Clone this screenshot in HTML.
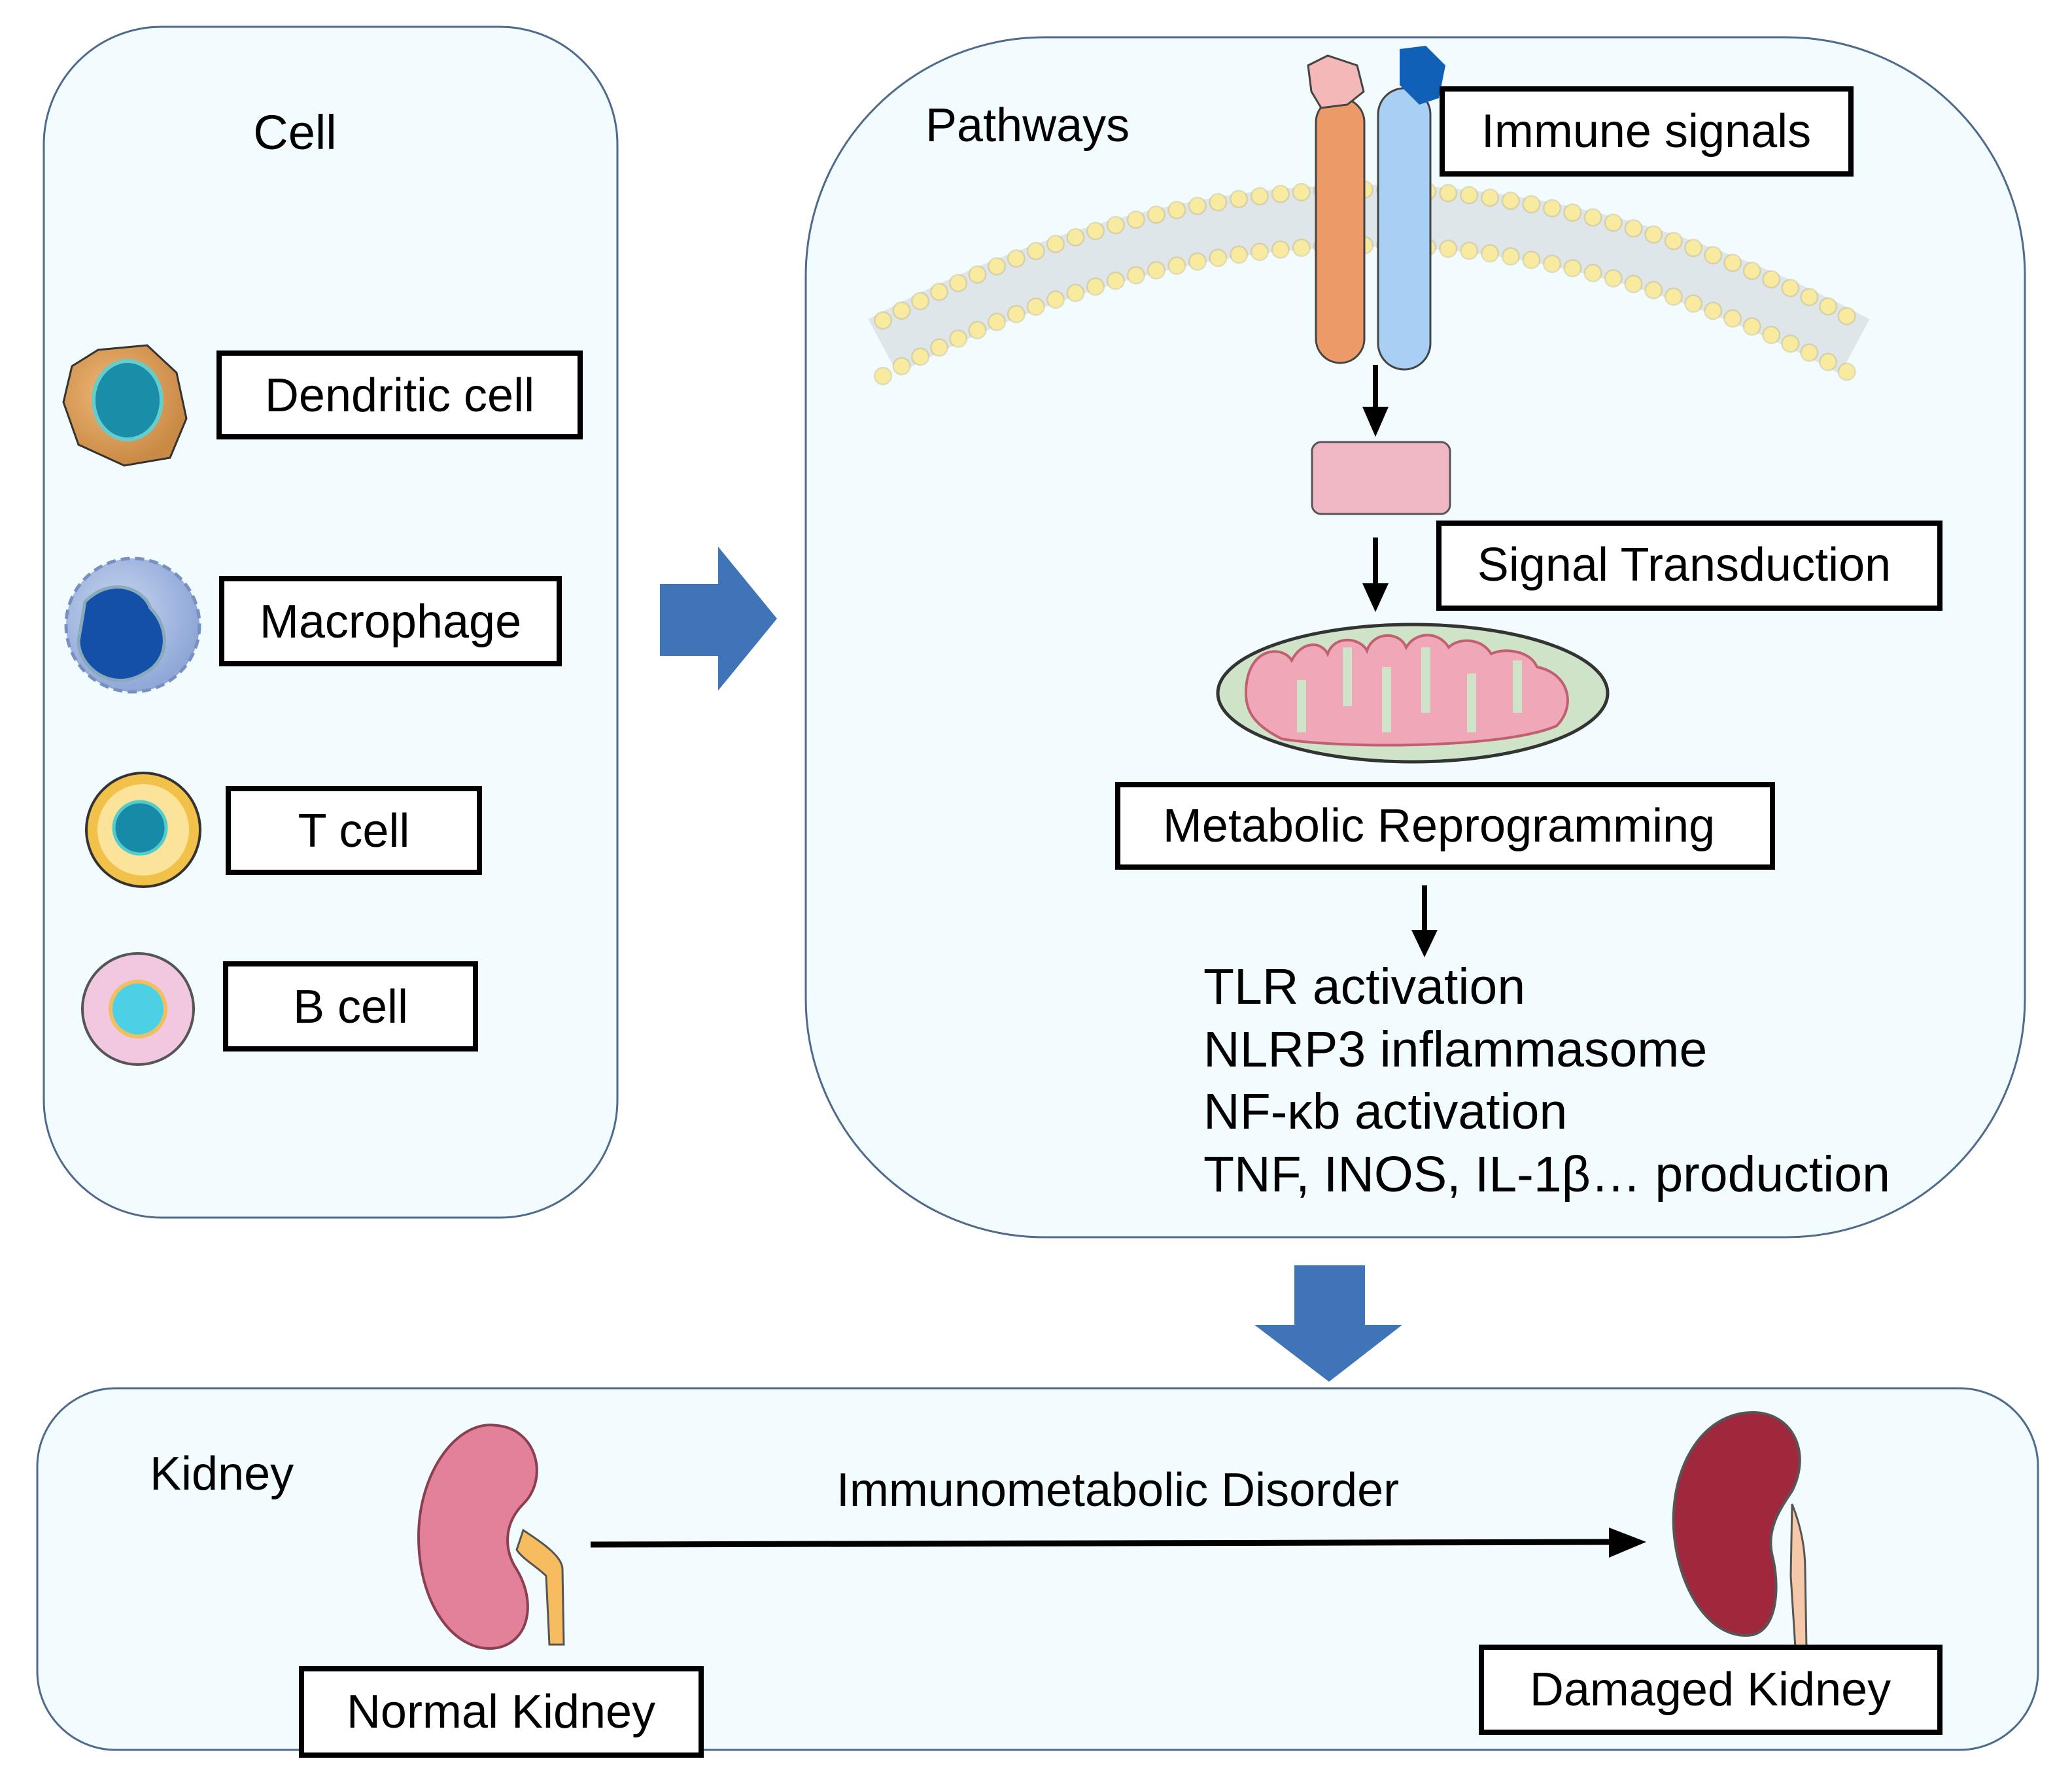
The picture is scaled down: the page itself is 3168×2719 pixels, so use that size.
<!DOCTYPE html>
<html><head><meta charset="utf-8"><style>
html,body{margin:0;padding:0;background:#fff}
svg{display:block}
text{font-family:"Liberation Sans",Arial,sans-serif;fill:#000}
</style></head><body>
<svg width="3168" height="2719" viewBox="0 0 3168 2719" xmlns="http://www.w3.org/2000/svg">
<defs>
<radialGradient id="dc" cx="40%" cy="40%" r="60%"><stop offset="0" stop-color="#f0b878"/><stop offset="1" stop-color="#c98a45"/></radialGradient>
<radialGradient id="mac" cx="40%" cy="40%" r="60%"><stop offset="0" stop-color="#c8d6f0"/><stop offset="1" stop-color="#90a8d8"/></radialGradient>
</defs>
<rect x="67" y="41" width="877" height="1821" rx="180" fill="#f2fbfd" stroke="#4e6a8c" stroke-width="3"/>
<rect x="1232" y="57" width="1864" height="1835" rx="365" fill="#f2fbfd" stroke="#4e6a8c" stroke-width="3"/>
<rect x="57" y="2123" width="3059" height="553" rx="120" fill="#f2fbfd" stroke="#4e6a8c" stroke-width="3"/>

<text x="451" y="228" font-size="74" text-anchor="middle">Cell</text>
<g fill="#fff" stroke="#000" stroke-width="8">
<rect x="335" y="540" width="552" height="128"/>
<rect x="339" y="885" width="516" height="130"/>
<rect x="349" y="1206" width="384" height="128"/>
<rect x="345" y="1474" width="382" height="130"/>
</g>
<g font-size="72" text-anchor="middle">
<text x="611" y="629">Dendritic cell</text>
<text x="597" y="975">Macrophage</text>
<text x="541" y="1295">T cell</text>
<text x="536" y="1564">B cell</text>
</g>
<path d="M150 535 L225 528 L270 570 L285 640 L260 700 L190 712 L120 680 L97 615 L110 560 Z" fill="url(#dc)" stroke="#333" stroke-width="3"/>
<ellipse cx="195" cy="612" rx="52" ry="60" fill="#1a8ea8" stroke="#6cc" stroke-width="6"/>
<circle cx="203" cy="956" r="102" fill="url(#mac)" stroke="#7890c0" stroke-width="5" stroke-dasharray="14 8"/>
<path d="M130 920 C170 880 220 900 230 930 C260 960 260 1010 220 1030 C170 1060 120 1020 120 980 Z" fill="#1450a8" stroke="#8ab" stroke-width="5"/>
<circle cx="219" cy="1269" r="87" fill="#f2c14a" stroke="#333" stroke-width="4"/>
<circle cx="219" cy="1269" r="70" fill="#fbe49a"/>
<circle cx="214" cy="1266" r="40" fill="#178aa8" stroke="#5cc" stroke-width="5"/>
<circle cx="211" cy="1543" r="85" fill="#f2c8e0" stroke="#555" stroke-width="4"/>
<circle cx="211" cy="1543" r="42" fill="#4cd0e6" stroke="#f0c060" stroke-width="6"/>

<path d="M1009 893 H1098 V836 L1188 946 L1098 1056 V1003 H1009 Z" fill="#3f74b8"/>
<path d="M1979 1935 H2087 V2026 H2144 L2032 2113 L1918 2026 H1979 Z" fill="#3f74b8"/>

<path d="M1350 530 Q2093 130 2836 530" fill="none" stroke="#dfe6ea" stroke-width="95"/>
<path d="M1350 490 Q2093 90 2836 490" fill="none" stroke="#c9b050" stroke-width="28" stroke-linecap="round" stroke-dasharray="0.1 32" opacity="0.4"/>
<path d="M1350 575 Q2093 175 2836 575" fill="none" stroke="#c9b050" stroke-width="28" stroke-linecap="round" stroke-dasharray="0.1 32" opacity="0.4"/>
<path d="M1350 490 Q2093 90 2836 490" fill="none" stroke="#f8eba0" stroke-width="23" stroke-linecap="round" stroke-dasharray="0.1 32"/>
<path d="M1350 575 Q2093 175 2836 575" fill="none" stroke="#f8eba0" stroke-width="23" stroke-linecap="round" stroke-dasharray="0.1 32"/>
<rect x="2012" y="150" width="74" height="405" rx="37" fill="#ec9a68" stroke="#444" stroke-width="3"/>
<path d="M2000 100 L2030 85 L2075 100 L2085 140 L2060 160 L2020 165 L2005 140 Z" fill="#f4b8b8" stroke="#444" stroke-width="3"/>
<rect x="2107" y="135" width="80" height="430" rx="40" fill="#a8d0f4" stroke="#444" stroke-width="3"/>
<path d="M2140 75 L2180 70 L2210 100 L2200 150 L2170 160 L2140 130 Z" fill="#1060b8"/>
<rect x="2205" y="136" width="625" height="130" fill="#fff" stroke="#000" stroke-width="8"/>
<text x="2517" y="225" font-size="72" text-anchor="middle">Immune signals</text>
<text x="1415" y="216" font-size="72">Pathways</text>

<g stroke="#000" stroke-width="8"><line x1="2103" y1="558" x2="2103" y2="630"/><line x1="2103" y1="822" x2="2103" y2="900"/><line x1="2178" y1="1354" x2="2178" y2="1430"/></g>
<g fill="#000"><path d="M2083 622 H2123 L2103 668 Z"/><path d="M2083 892 H2123 L2103 936 Z"/><path d="M2158 1422 H2198 L2178 1464 Z"/></g>

<rect x="2006" y="676" width="211" height="110" rx="14" fill="#f0b8c4" stroke="#555" stroke-width="3"/>
<rect x="2200" y="800" width="766" height="130" fill="#fff" stroke="#000" stroke-width="8"/>
<text x="2575" y="888" font-size="72" text-anchor="middle">Signal Transduction</text>

<ellipse cx="2160" cy="1060" rx="298" ry="105" fill="#cfe3c8" stroke="#333" stroke-width="5"/>
<path d="M1905 1060 C1905 990 1960 985 1975 1010 C1990 980 2020 980 2030 1000 C2040 970 2080 975 2090 995 C2100 965 2140 965 2150 990 C2165 965 2200 965 2215 990 C2230 975 2265 975 2280 1000 C2300 990 2340 995 2350 1020 C2400 1030 2410 1080 2380 1110 C2300 1145 2050 1145 1960 1130 C1920 1110 1905 1090 1905 1060 Z" fill="#f0a8b8" stroke="#c06070" stroke-width="4"/>
<g stroke="#cfe3c8" stroke-width="14" fill="none"><path d="M1990 1120 V1040"/><path d="M2060 990 V1080"/><path d="M2120 1120 V1020"/><path d="M2180 990 V1090"/><path d="M2250 1120 V1030"/><path d="M2320 1010 V1090"/></g>

<rect x="1709" y="1200" width="1001" height="126" fill="#fff" stroke="#000" stroke-width="8"/>
<text x="2200" y="1287" font-size="72" text-anchor="middle">Metabolic Reprogramming</text>
<g font-size="77">
<text x="1840" y="1535">TLR activation</text>
<text x="1840" y="1631">NLRP3 inflammasome</text>
<text x="1840" y="1726">NF-κb activation</text>
<text x="1840" y="1822">TNF, INOS, IL-1β… production</text>
</g>

<text x="229" y="2278" font-size="72">Kidney</text>
<text x="1709" y="2303" font-size="72" text-anchor="middle">Immunometabolic Disorder</text>
<line x1="903" y1="2362" x2="2470" y2="2358" stroke="#000" stroke-width="9"/>
<path d="M2460 2336 L2517 2358 L2460 2382 Z" fill="#000"/>
<path d="M760 2180 C700 2170 640 2250 640 2350 C640 2460 700 2530 760 2520 C810 2510 820 2450 790 2400 C770 2370 770 2330 800 2300 C840 2260 820 2185 760 2180 Z" fill="#e3809a" stroke="#8a4050" stroke-width="4"/>
<path d="M800 2340 C830 2360 860 2380 860 2400 L862 2515 L840 2515 L835 2410 C820 2395 800 2385 790 2370 Z" fill="#f8bc60" stroke="#555" stroke-width="3"/>
<rect x="461" y="2552" width="611" height="132" fill="#fff" stroke="#000" stroke-width="8"/>
<text x="766" y="2642" font-size="72" text-anchor="middle">Normal Kidney</text>
<path d="M2740 2300 C2760 2350 2760 2390 2760 2400 L2762 2520 L2745 2520 L2738 2410 Z" fill="#f4c8a8" stroke="#555" stroke-width="3"/>
<path d="M2680 2160 C2600 2160 2550 2250 2560 2350 C2570 2440 2620 2510 2680 2500 C2720 2490 2720 2420 2710 2380 C2700 2340 2720 2310 2740 2280 C2770 2220 2740 2160 2680 2160 Z" fill="#a0283c" stroke="#555" stroke-width="4"/>
<rect x="2265" y="2519" width="701" height="130" fill="#fff" stroke="#000" stroke-width="8"/>
<text x="2615" y="2608" font-size="72" text-anchor="middle">Damaged Kidney</text>
</svg>
</body></html>
